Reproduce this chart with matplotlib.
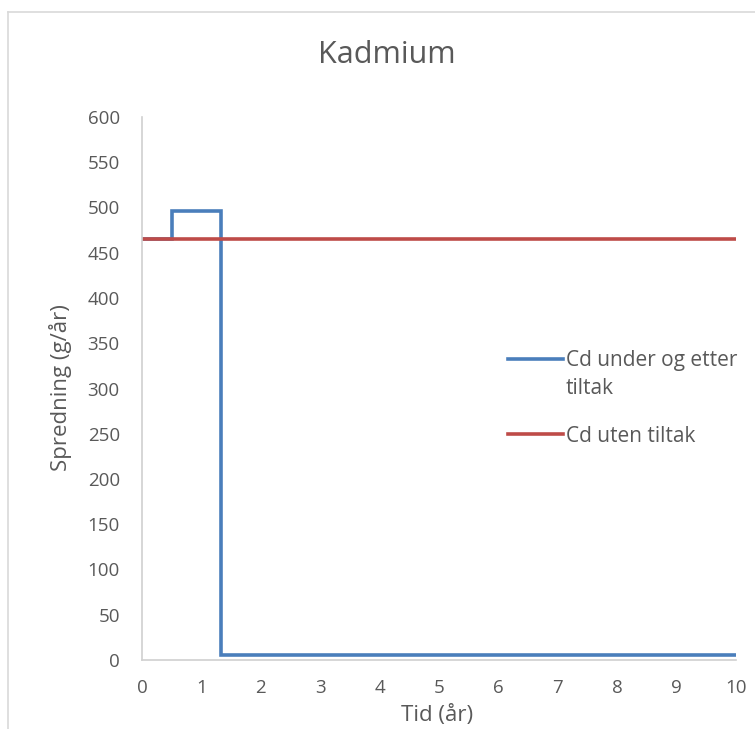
import matplotlib.pyplot as plt
from matplotlib.lines import Line2D

# Data
tid_tiltak = [0, 0.5, 0.5, 1.33, 1.33, 10]
cd_tiltak = [465, 465, 496, 496, 5, 5]
tid_uten = [0, 10]
cd_uten = [465, 465]

xticks = list(range(0, 11))
yticks = list(range(0, 601, 50))

plt.rcParams['font.family'] = ['Open Sans', 'DejaVu Sans']
grey = '#595959'

fig = plt.figure(figsize=(7.55, 7.29), dpi=100)
ax = fig.add_axes([142 / 755, 69 / 729, 594 / 755, 543 / 729])

# outer chart frame (Excel style), cut by the image edges
fig.add_artist(Line2D([8 / 755, 8 / 755], [0, 1 - 12 / 729], transform=fig.transFigure,
                      color='#d9d9d9', linewidth=1.2))
fig.add_artist(Line2D([8 / 755, 1], [1 - 12 / 729, 1 - 12 / 729], transform=fig.transFigure,
                      color='#d9d9d9', linewidth=1.2))

ax.plot(tid_tiltak, cd_tiltak, color='#4a7ebb', linewidth=2.6, label='Cd under og etter',
        solid_joinstyle='miter')
ax.plot(tid_uten, cd_uten, color='#be4b48', linewidth=2.6, label='Cd uten tiltak')

ax.set_xlim(0, 10)
ax.set_ylim(0, 600)
ax.set_xticks(xticks)
ax.set_yticks(yticks)
ax.tick_params(axis='both', length=0, labelsize=13.5, colors=grey)
ax.tick_params(axis='y', pad=16)
ax.tick_params(axis='x', pad=14)

for side in ['top', 'right']:
    ax.spines[side].set_visible(False)
for side in ['left', 'bottom']:
    ax.spines[side].set_color('#d0d0d0')
    ax.spines[side].set_linewidth(1.2)

fig.text(387 / 755, 1 - 55 / 729, 'Kadmium', ha='center', va='center', fontsize=22, color=grey)
fig.text(61 / 755, 1 - 388 / 729, 'Spredning (g/år)', ha='center', va='center', rotation=90,
         fontsize=16, color=grey)
fig.text(437 / 755, 1 - 716 / 729, 'Tid (år)', ha='center', va='center', fontsize=16, color=grey)

fig.legend(loc='upper left', bbox_to_anchor=(500 / 755, 1 - 342 / 729), frameon=False,
           fontsize=15, labelcolor=grey, handlelength=2.6, handletextpad=0.15,
           labelspacing=2.6, borderaxespad=0)
# second line of the wrapped legend label
fig.text(566 / 755, 1 - 388 / 729, 'tiltak', ha='left', va='center', fontsize=15, color=grey)

plt.savefig('out.png', dpi=100)
